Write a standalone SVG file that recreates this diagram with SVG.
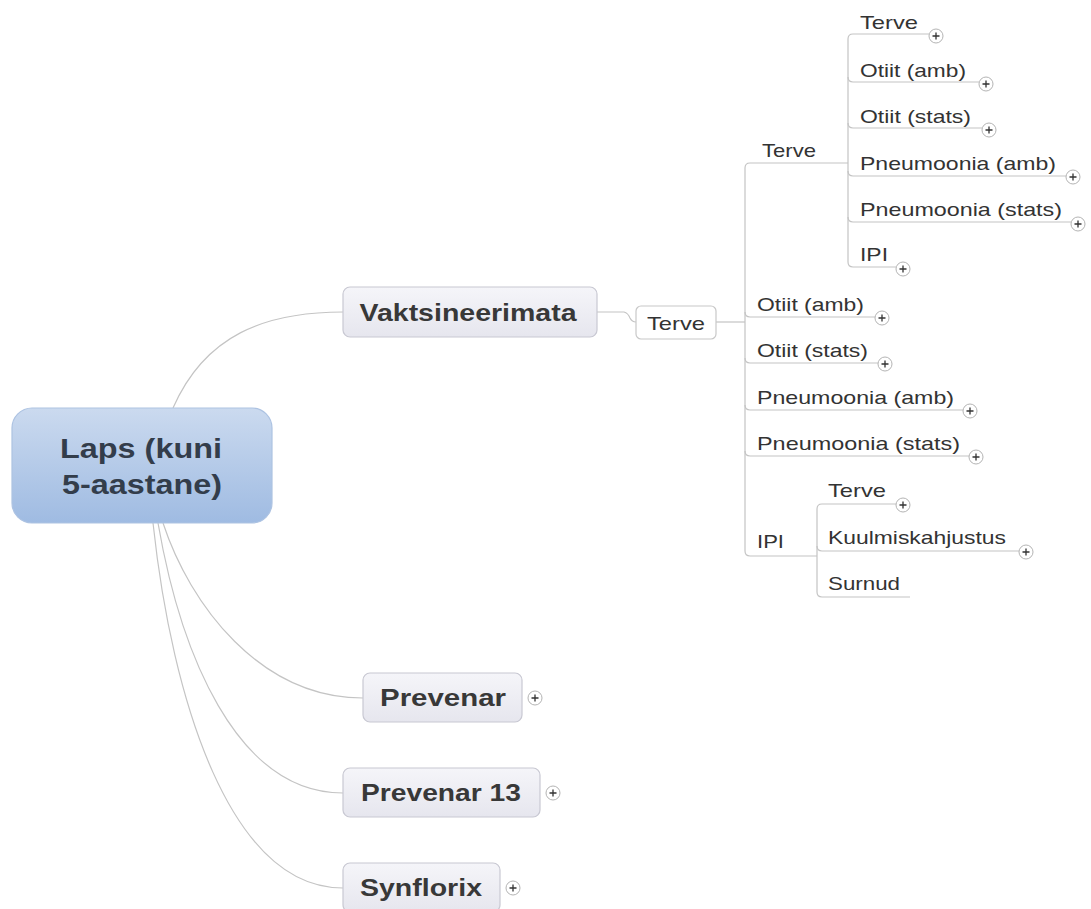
<svg xmlns="http://www.w3.org/2000/svg" width="1091" height="909" viewBox="0 0 1091 909">
<defs>
<linearGradient id="gRoot" x1="0" y1="0" x2="0" y2="1">
<stop offset="0" stop-color="#cbdaef"/><stop offset="1" stop-color="#9fbbe2"/>
</linearGradient>
<linearGradient id="gMain" x1="0" y1="0" x2="0" y2="1">
<stop offset="0" stop-color="#f5f5f9"/><stop offset="1" stop-color="#e6e6ee"/>
</linearGradient>
<g id="plus"><circle r="7" fill="#fff" stroke="#b4b4b4" stroke-width="1"/><path d="M-3.5,0H3.5M0,-3.5V3.5" stroke="#333" stroke-width="1.3"/></g>
</defs>
<style>
.c{fill:none;stroke:#c4c4c4;stroke-width:1.2}
.u{fill:none;stroke:#c4c4c4;stroke-width:1.2}
.t{font-family:"Liberation Sans",Arial,sans-serif;font-size:19px;fill:#333}
.b{font-family:"Liberation Sans",Arial,sans-serif;font-weight:bold;font-size:24px;fill:#383838}
.r{font-family:"Liberation Sans",Arial,sans-serif;font-weight:bold;font-size:27px;fill:#333d4b}
.mn{fill:url(#gMain);stroke:#c8c8d2;stroke-width:1.2}
</style>
<rect width="1091" height="909" fill="#fff"/>
<g id="connectors">
<path class="c" d="M173,408 C205,335 265,312 343,312"/>
<path class="c" d="M163,523 C190,605 260,698 363,698"/>
<path class="c" d="M158,523 C180,650 235,793 343,793"/>
<path class="c" d="M153,523 C172,700 230,888 343,888"/>
<path class="c" d="M597,312 H624 Q628,313 630,318 Q632,322 636,322"/>
<path class="c" d="M716,322 H745"/>
<path class="u" d="M745,322 V168 Q745,163 750,163 H848"/>
<path class="u" d="M745,312 Q745,317 750,317 H875"/>
<path class="u" d="M745,358 Q745,363 750,363 H878"/>
<path class="u" d="M745,405 Q745,410 750,410 H963"/>
<path class="u" d="M745,451 Q745,456 750,456 H969"/>
<path class="u" d="M745,322 V551 Q745,556 750,556 H817"/>
<path class="u" d="M848,163 V39 Q848,34 853,34 H929"/>
<path class="u" d="M848,77 Q848,82 853,82 H979"/>
<path class="u" d="M848,123 Q848,128 853,128 H982"/>
<path class="u" d="M848,171 Q848,176 853,176 H1066"/>
<path class="u" d="M848,217 Q848,222 853,222 H1071"/>
<path class="u" d="M848,163 V262 Q848,267 853,267 H896"/>
<path class="u" d="M817,556 V509 Q817,504 822,504 H896"/>
<path class="u" d="M817,546 Q817,551 822,551 H1019"/>
<path class="u" d="M817,556 V592 Q817,597 822,597 H910"/>
</g>
<g id="root">
<rect x="12" y="408" width="260" height="115" rx="20" fill="url(#gRoot)" stroke="#adc3e2" stroke-width="1.2"/>
<text class="r" x="141" y="458" text-anchor="middle" textLength="162" lengthAdjust="spacingAndGlyphs">Laps (kuni</text>
<text class="r" x="142" y="494" text-anchor="middle" textLength="160" lengthAdjust="spacingAndGlyphs">5-aastane)</text>
</g>
<g id="vaktsineerimata">
<rect class="mn" x="343" y="287" width="254" height="50" rx="7"/>
<text class="b" x="468" y="321" text-anchor="middle" textLength="217" lengthAdjust="spacingAndGlyphs">Vaktsineerimata</text>
</g>
<g id="terve-box">
<rect x="636" y="306" width="80" height="33" rx="5" fill="#fff" stroke="#c8c8c8" stroke-width="1.2"/>
<text class="t" x="676" y="330" text-anchor="middle" textLength="58" lengthAdjust="spacingAndGlyphs">Terve</text>
</g>
<g id="prevenar">
<rect class="mn" x="363" y="673" width="159" height="49" rx="7"/>
<text class="b" x="443" y="706" text-anchor="middle" textLength="126" lengthAdjust="spacingAndGlyphs">Prevenar</text>
<use href="#plus" x="535" y="698"/>
</g>
<g id="prevenar13">
<rect class="mn" x="343" y="768" width="197" height="49" rx="7"/>
<text class="b" x="441" y="801" text-anchor="middle" textLength="160" lengthAdjust="spacingAndGlyphs">Prevenar 13</text>
<use href="#plus" x="553" y="793"/>
</g>
<g id="synflorix">
<rect class="mn" x="343" y="863" width="157" height="49" rx="7"/>
<text class="b" x="421" y="896" text-anchor="middle" textLength="122" lengthAdjust="spacingAndGlyphs">Synflorix</text>
<use href="#plus" x="513" y="888"/>
</g>
<g id="terve-sub">
<text class="t" x="762" y="157" textLength="54" lengthAdjust="spacingAndGlyphs">Terve</text>
</g>
<g id="s-terve"><text class="t" x="860" y="29" textLength="58" lengthAdjust="spacingAndGlyphs">Terve</text><use href="#plus" x="936" y="36"/></g>
<g id="s-otiit-amb"><text class="t" x="860" y="77" textLength="106" lengthAdjust="spacingAndGlyphs">Otiit (amb)</text><use href="#plus" x="986" y="84"/></g>
<g id="s-otiit-stats"><text class="t" x="860" y="123" textLength="111" lengthAdjust="spacingAndGlyphs">Otiit (stats)</text><use href="#plus" x="989" y="130"/></g>
<g id="s-pneu-amb"><text class="t" x="860" y="170" textLength="196" lengthAdjust="spacingAndGlyphs">Pneumoonia (amb)</text><use href="#plus" x="1073" y="177"/></g>
<g id="s-pneu-stats"><text class="t" x="860" y="216" textLength="202" lengthAdjust="spacingAndGlyphs">Pneumoonia (stats)</text><use href="#plus" x="1078" y="224"/></g>
<g id="s-ipi"><text class="t" x="860" y="261" textLength="28" lengthAdjust="spacingAndGlyphs">IPI</text><use href="#plus" x="903" y="269"/></g>
<g id="m-otiit-amb"><text class="t" x="757" y="311" textLength="107" lengthAdjust="spacingAndGlyphs">Otiit (amb)</text><use href="#plus" x="882" y="318"/></g>
<g id="m-otiit-stats"><text class="t" x="757" y="357" textLength="111" lengthAdjust="spacingAndGlyphs">Otiit (stats)</text><use href="#plus" x="885" y="364"/></g>
<g id="m-pneu-amb"><text class="t" x="757" y="404" textLength="197" lengthAdjust="spacingAndGlyphs">Pneumoonia (amb)</text><use href="#plus" x="970" y="411"/></g>
<g id="m-pneu-stats"><text class="t" x="757" y="450" textLength="203" lengthAdjust="spacingAndGlyphs">Pneumoonia (stats)</text><use href="#plus" x="976" y="457"/></g>
<g id="m-ipi"><text class="t" x="757" y="548" textLength="27" lengthAdjust="spacingAndGlyphs">IPI</text></g>
<g id="i-terve"><text class="t" x="828" y="497" textLength="58" lengthAdjust="spacingAndGlyphs">Terve</text><use href="#plus" x="903" y="505"/></g>
<g id="i-kuulmis"><text class="t" x="828" y="544" textLength="178" lengthAdjust="spacingAndGlyphs">Kuulmiskahjustus</text><use href="#plus" x="1026" y="552"/></g>
<g id="i-surnud"><text class="t" x="828" y="590" textLength="72" lengthAdjust="spacingAndGlyphs">Surnud</text></g>
</svg>
